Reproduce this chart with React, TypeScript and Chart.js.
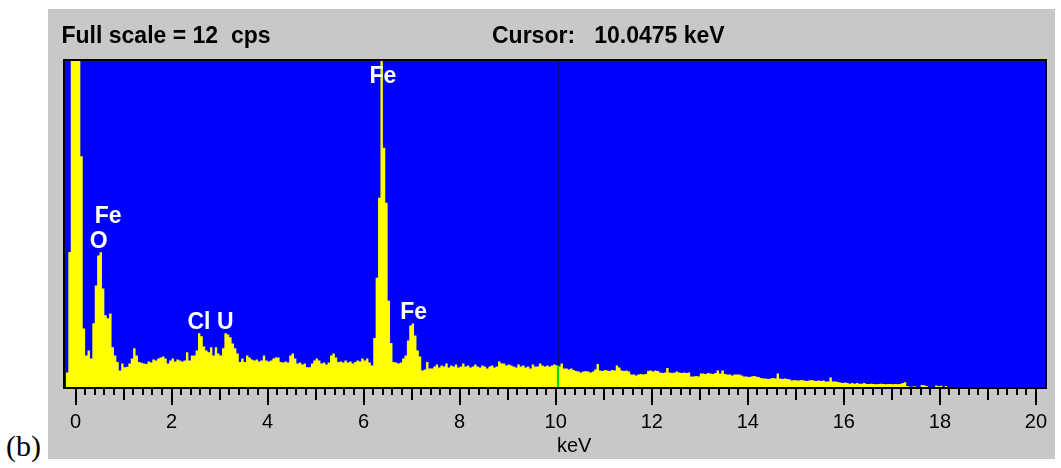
import { useEffect, useRef } from 'react';
import { Chart, registerables } from 'chart.js';

Chart.register(...registerables);

// ---- data ----
const BIN_START_KEV = -0.2;
const BIN_WIDTH_KEV = 0.05;
const FULL_SCALE_CPS = 12;
const CURSOR_KEV = 10.0475;
const X_MIN = -0.24;
const X_MAX = 20.21;

const SPECTRUM_CPS = [
  0.57, 4.98, 14, 14, 14, 14, 8.48, 2.18, 1.19, 1.37, 1.08, 2.37, 3.75, 4.85, 4.97, 3.64, 2.66, 2.55, 2.73, 1.49,
  1.19, 0.95, 0.64, 0.90, 0.76, 0.78, 0.90, 1.08, 1.45, 1.19, 0.95, 0.92, 0.90, 0.88, 0.97, 0.93, 1.04, 1.01, 1.08, 1.12,
  1.15, 1.08, 0.90, 1.01, 1.08, 0.97, 1.04, 1.01, 0.97, 1.01, 1.31, 1.01, 1.19, 1.19, 1.37, 2.00, 1.89, 1.52, 1.37, 1.31,
  1.49, 1.19, 1.49, 1.26, 1.19, 1.45, 2.00, 1.96, 1.86, 1.63, 1.45, 1.26, 0.95, 1.08, 0.95, 1.19, 1.12, 1.04, 1.01, 1.04,
  0.97, 1.01, 1.19, 1.01, 0.97, 1.01, 1.08, 1.12, 1.12, 0.95, 0.93, 0.97, 0.93, 1.19, 1.26, 1.08, 0.90, 0.93, 0.86, 0.90,
  0.76, 0.76, 0.90, 1.01, 1.08, 1.01, 0.90, 0.93, 0.86, 0.93, 1.19, 1.26, 1.12, 0.95, 0.97, 0.93, 1.01, 0.93, 0.97, 0.90,
  0.95, 1.01, 0.97, 1.08, 1.01, 1.08, 0.93, 0.82, 1.83, 4.03, 6.96, 12.5, 8.79, 6.78, 3.19, 1.65, 0.95, 0.93, 0.90, 0.93,
  1.08, 1.19, 1.74, 2.29, 2.36, 1.92, 1.37, 1.15, 0.64, 0.68, 0.95, 0.71, 0.71, 0.79, 0.86, 0.75, 0.82, 0.79, 0.90, 0.75,
  0.82, 0.79, 0.86, 0.75, 0.79, 0.90, 0.79, 0.82, 0.75, 0.79, 0.86, 0.79, 0.75, 0.82, 0.79, 0.71, 0.79, 0.82, 0.75, 0.79,
  0.97, 0.90, 0.90, 0.82, 0.86, 0.82, 0.79, 0.75, 0.86, 0.79, 0.82, 0.75, 0.79, 0.71, 0.86, 0.79, 0.79, 0.90, 0.82, 0.79,
  0.82, 0.79, 0.82, 0.86, 0.82, 0.79, 0.90, 0.71, 0.71, 0.68, 0.71, 0.66, 0.62, 0.60, 0.57, 0.60, 0.62, 0.60, 0.57, 0.60,
  0.68, 0.88, 0.64, 0.62, 0.66, 0.64, 0.62, 0.66, 0.64, 0.82, 0.75, 0.64, 0.62, 0.64, 0.60, 0.49, 0.49, 0.46, 0.49, 0.51,
  0.49, 0.51, 0.62, 0.64, 0.60, 0.64, 0.62, 0.57, 0.55, 0.57, 0.73, 0.57, 0.55, 0.57, 0.60, 0.57, 0.55, 0.57, 0.55, 0.57,
  0.42, 0.42, 0.44, 0.42, 0.53, 0.53, 0.51, 0.55, 0.53, 0.51, 0.55, 0.64, 0.53, 0.64, 0.51, 0.49, 0.49, 0.46, 0.49, 0.49,
  0.49, 0.46, 0.42, 0.42, 0.40, 0.42, 0.44, 0.42, 0.40, 0.37, 0.35, 0.35, 0.33, 0.35, 0.37, 0.35, 0.53, 0.35, 0.33, 0.35,
  0.33, 0.31, 0.27, 0.29, 0.27, 0.27, 0.29, 0.27, 0.26, 0.27, 0.29, 0.27, 0.26, 0.27, 0.26, 0.27, 0.24, 0.24, 0.38, 0.24,
  0.24, 0.22, 0.20, 0.18, 0.20, 0.18, 0.16, 0.18, 0.16, 0.18, 0.16, 0.16, 0.18, 0.15, 0.15, 0.16, 0.15, 0.14, 0.15, 0.16,
  0.15, 0.14, 0.15, 0.15, 0.14, 0.15, 0.14, 0.15, 0.18, 0.21, 0.07, 0.05, 0.05, 0.06, 0.04, 0.03, 0.11, 0.10, 0.07, 0.02,
  0.03, 0.02, 0.09, 0.06, 0.08, 0.04, 0.07, 0.03, 0, 0.04, 0, 0.03, 0, 0, 0, 0.04, 0.03, 0, 0, 0.03,
  0, 0, 0, 0, 0, 0, 0, 0, 0, 0, 0, 0, 0, 0, 0, 0, 0, 0, 0, 0,
  0, 0, 0, 0,
];

const X_TICK_LABELS = ['0', '2', '4', '6', '8', '10', '12', '14', '16', '18', '20'];

const PEAK_LABELS = ['Fe', 'O', 'Cl', 'U', 'Fe', 'Fe'];
const PEAK_LABEL_KEV = [0.68, 0.485, 2.57, 3.12, 6.4, 7.04];
const PEAK_LABEL_CPS = [6.05, 5.12, 2.15, 2.15, 11.17, 2.51];

const HEADER_LEFT = 'Full scale = 12  cps';
const HEADER_RIGHT = 'Cursor:   10.0475 keV';
const X_TITLE = 'keV';

// ---- styles ----
const PANEL_BG = '#c8c8c8';
const PLOT_BG = '#0000ff';
const SPECTRUM_COLOR = '#ffff00';
const SANS = '"Liberation Sans", Arial, sans-serif';

export default function App() {
  const ref = useRef<HTMLCanvasElement>(null);

  useEffect(() => {
    const canvas = ref.current;
    if (!canvas) return;

    const points = SPECTRUM_CPS.map((v, i) => ({ x: BIN_START_KEV + i * BIN_WIDTH_KEV, y: v }));
    points.push({ x: BIN_START_KEV + SPECTRUM_CPS.length * BIN_WIDTH_KEV, y: 0 });

    const edsPlugin = {
      id: 'edsDecor',
      beforeDraw(chart: any) {
        const { ctx, chartArea: a } = chart;
        ctx.save();
        ctx.fillStyle = PLOT_BG;
        ctx.fillRect(a.left, a.top, a.right - a.left, a.bottom - a.top);
        ctx.restore();
      },
      afterDatasetsDraw(chart: any) {
        const { ctx, chartArea: a, scales } = chart;
        const xs = scales.x;
        const ys = scales.y;
        ctx.save();
        // cursor
        const cx = Math.round(xs.getPixelForValue(CURSOR_KEV));
        const bin = Math.floor((CURSOR_KEV - BIN_START_KEV) / BIN_WIDTH_KEV);
        const cy = ys.getPixelForValue(SPECTRUM_CPS[bin]);
        ctx.strokeStyle = '#00008c';
        ctx.lineWidth = 1;
        ctx.beginPath();
        ctx.moveTo(cx + 0.5, a.top);
        ctx.lineTo(cx + 0.5, cy);
        ctx.stroke();
        ctx.strokeStyle = '#00dd00';
        ctx.lineWidth = 2;
        ctx.beginPath();
        ctx.moveTo(cx, cy);
        ctx.lineTo(cx, a.bottom);
        ctx.stroke();
        // peak labels
        ctx.fillStyle = '#ffffff';
        ctx.font = 'bold 23px ' + SANS;
        ctx.textAlign = 'center';
        ctx.textBaseline = 'alphabetic';
        PEAK_LABELS.forEach((t, i) => {
          ctx.fillText(t, xs.getPixelForValue(PEAK_LABEL_KEV[i]), ys.getPixelForValue(PEAK_LABEL_CPS[i]));
        });
        // frame
        ctx.strokeStyle = '#000000';
        ctx.lineWidth = 2;
        ctx.strokeRect(a.left, a.top, a.right - a.left, a.bottom - a.top);
        ctx.restore();
      },
      afterDraw(chart: any) {
        const { ctx, chartArea: a, scales } = chart;
        const xs = scales.x;
        ctx.save();
        // tick marks: minor every 0.2 keV, medium at odd keV, long at even keV
        ctx.strokeStyle = '#000000';
        ctx.lineWidth = 2;
        for (let k = 0; k <= 100; k++) {
          const px = Math.round(xs.getPixelForValue(k * 0.2));
          const len = k % 10 === 0 ? 16 : k % 5 === 0 ? 11 : 6;
          ctx.beginPath();
          ctx.moveTo(px, a.bottom + 1);
          ctx.lineTo(px, a.bottom + 1 + len);
          ctx.stroke();
        }
        // axis title
        ctx.fillStyle = '#000000';
        ctx.font = '20px ' + SANS;
        ctx.textAlign = 'left';
        ctx.textBaseline = 'alphabetic';
        ctx.fillText(X_TITLE, (a.left + a.right) / 2 + 2, a.bottom + 63.7);
        // header
        ctx.font = 'bold 23px ' + SANS;
        ctx.fillText(HEADER_LEFT, 13.5, 34.3);
        ctx.fillText(HEADER_RIGHT, 444, 34.3);
        ctx.restore();
      },
    };

    const chart = new Chart(canvas, {
      type: 'line',
      data: {
        datasets: [
          {
            data: points,
            stepped: true,
            fill: 'origin',
            backgroundColor: SPECTRUM_COLOR,
            borderColor: 'rgba(0,0,0,0)',
            borderWidth: 0,
            pointRadius: 0,
            pointHoverRadius: 0,
            tension: 0,
          },
        ],
      },
      options: {
        animation: false,
        responsive: false,
        maintainAspectRatio: false,
        devicePixelRatio: 1,
        events: [],
        layout: { padding: { left: 16, right: 9, top: 51, bottom: 0 } },
        plugins: {
          legend: { display: false },
          tooltip: { enabled: false },
          title: { display: false },
        },
        scales: {
          x: {
            type: 'linear',
            min: X_MIN,
            max: X_MAX,
            afterFit: (s: any) => {
              s.height = 71;
              s.paddingLeft = 0;
              s.paddingRight = 0;
            },
            grid: { display: false },
            border: { display: false },
            ticks: {
              stepSize: 0.2,
              autoSkip: false,
              maxRotation: 0,
              minRotation: 0,
              padding: 14,
              color: '#000000',
              font: { family: SANS, size: 20 },
              callback: (value: any) => {
                const v = Number(value);
                const r = Math.round(v);
                if (Math.abs(v - r) > 1e-6) return '';
                const lbl = String(r);
                return X_TICK_LABELS.includes(lbl) ? lbl : '';
              },
            },
          },
          y: {
            display: false,
            min: 0,
            max: FULL_SCALE_CPS,
          },
        },
      },
      plugins: [edsPlugin],
    } as any);

    return () => chart.destroy();
  }, []);

  return (
    <div style={{ position: 'absolute', left: 0, top: 0, width: 1061, height: 468, background: '#ffffff' }}>
      <span
        style={{
          position: 'absolute',
          left: 6,
          top: 431,
          fontFamily: '"Liberation Serif", "Times New Roman", serif',
          fontSize: 30,
          lineHeight: '30px',
          color: '#000',
          whiteSpace: 'nowrap',
        }}
      >
        (b)
      </span>
      <div style={{ position: 'absolute', left: 48, top: 9, width: 1007, height: 450, background: PANEL_BG }}>
        <canvas ref={ref} width={1007} height={450} style={{ display: 'block', width: 1007, height: 450 }} />
      </div>
    </div>
  );
}
